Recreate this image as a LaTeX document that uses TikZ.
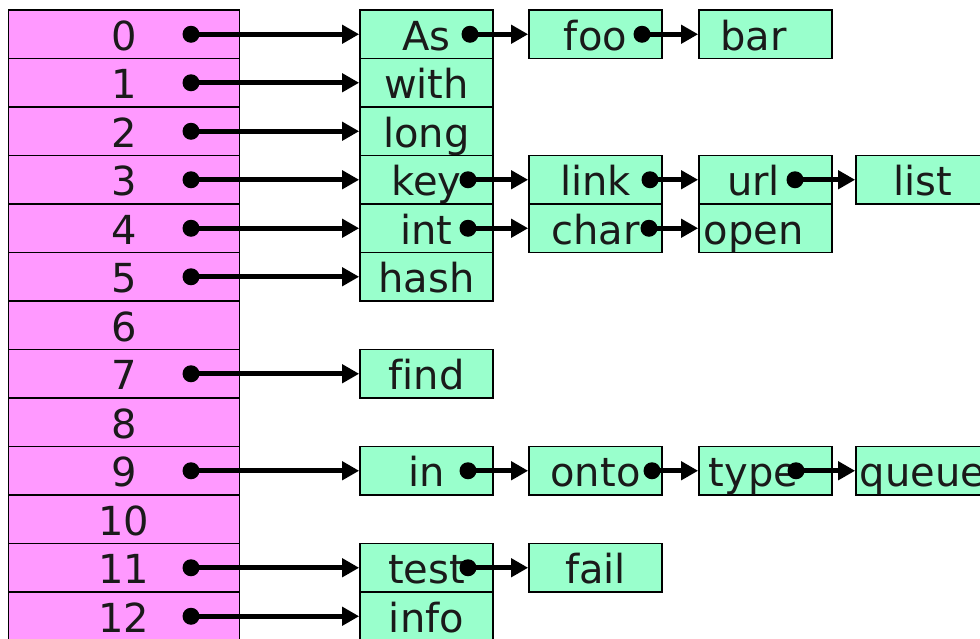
\documentclass[tikz,border=0pt]{standalone}
\usepackage{fontspec}
\setmainfont[Ligatures=NoCommon]{DejaVu Sans}
\usetikzlibrary{arrows.meta}
\definecolor{pinkfill}{HTML}{FF99FF}
\definecolor{greenfill}{HTML}{99FFCC}
\definecolor{inkc}{HTML}{1A1A1A}
\begin{document}
\begin{tikzpicture}[x=1pt,y=-1pt,
  cell/.style={draw=black, line width=1.7pt, rectangle, inner sep=0pt,
    minimum height=48.5pt, text height=40pt, text depth=8.5pt,
    font=\fontsize{40}{40}\selectfont, text=inkc},
  idx/.style={cell, fill=pinkfill, minimum width=231pt},
  word/.style={cell, fill=greenfill, minimum width=133pt},
  wordl/.style={word, execute at begin node={\hspace*{-24pt}}},
  dotn/.style={circle, fill=black, inner sep=0pt, minimum size=17pt},
  conn/.style={line width=4.6pt, -{Triangle[length=17pt,width=18pt]}},
]
\useasboundingbox (0,0) rectangle (980,638);
% index column
\foreach \i in {0,...,12}
  \node[idx] (i\i) at (124,{34.25+48.5*\i}) {\i};
% column 1
\node[word] (a0)  at (426.5,{34.25+48.5*0})  {As};
\node[word] (a1)  at (426.5,{34.25+48.5*1})  {with};
\node[word] (a2)  at (426.5,{34.25+48.5*2})  {long};
\node[word] (a3)  at (426.5,{34.25+48.5*3})  {key};
\node[word] (a4)  at (426.5,{34.25+48.5*4})  {int};
\node[word] (a5)  at (426.5,{34.25+48.5*5})  {hash};
\node[word] (a7)  at (426.5,{34.25+48.5*7})  {find};
\node[word] (a9)  at (426.5,{34.25+48.5*9})  {in};
\node[word] (a11) at (426.5,{34.25+48.5*11}) {test};
\node[word] (a12) at (426.5,{34.25+48.5*12}) {info};
% column 2
\node[word] (b0)  at (595.5,{34.25+48.5*0})  {foo};
\node[word] (b3)  at (595.5,{34.25+48.5*3})  {link};
\node[word] (b4)  at (595.5,{34.25+48.5*4})  {char};
\node[word] (b9)  at (595.5,{34.25+48.5*9})  {onto};
\node[word] (b11) at (595.5,{34.25+48.5*11}) {fail};
% column 3
\node[wordl] (c0) at (765.5,{34.25+48.5*0}) {bar};
\node[wordl] (c3) at (765.5,{34.25+48.5*3}) {url};
\node[wordl] (c4) at (765.5,{34.25+48.5*4}) {open};
\node[wordl] (c9) at (765.5,{34.25+48.5*9}) {type};
% column 4
\node[word] (e3) at (922.5,{34.25+48.5*3}) {list};
\node[word] (e9) at (922.5,{34.25+48.5*9}) {queue};
% pointer dots
\foreach \i in {0,1,2,3,4,5,7,9,11,12}
  \node[dotn] (p\i) at (191,{34.25+48.5*\i}) {};
\node[dotn] (q0)  at (470,{34.25+48.5*0})  {};
\node[dotn] (q3)  at (468,{34.25+48.5*3})  {};
\node[dotn] (q4)  at (468,{34.25+48.5*4})  {};
\node[dotn] (q9)  at (468,{34.25+48.5*9})  {};
\node[dotn] (q11) at (468,{34.25+48.5*11}) {};
\node[dotn] (r0)  at (642,{34.25+48.5*0})  {};
\node[dotn] (r3)  at (650,{34.25+48.5*3})  {};
\node[dotn] (r4)  at (649,{34.25+48.5*4})  {};
\node[dotn] (r9)  at (652,{34.25+48.5*9})  {};
\node[dotn] (s3)  at (795,{34.25+48.5*3})  {};
\node[dotn] (s9)  at (796,{34.25+48.5*9})  {};
% connectors
\foreach \i in {0,1,2,3,4,5,7,9,11,12}
  \draw[conn] (p\i.center) -- (a\i.west);
\draw[conn] (q0.center) -- (b0.west);
\draw[conn] (q3.center) -- (b3.west);
\draw[conn] (q4.center) -- (b4.west);
\draw[conn] (q9.center) -- (b9.west);
\draw[conn] (q11.center) -- (b11.west);
\draw[conn] (r0.center) -- (c0.west);
\draw[conn] (r3.center) -- (c3.west);
\draw[conn] (r4.center) -- (c4.west);
\draw[conn] (r9.center) -- (c9.west);
\draw[conn] (s3.center) -- (e3.west);
\draw[conn] (s9.center) -- (e9.west);
\end{tikzpicture}
\end{document}
